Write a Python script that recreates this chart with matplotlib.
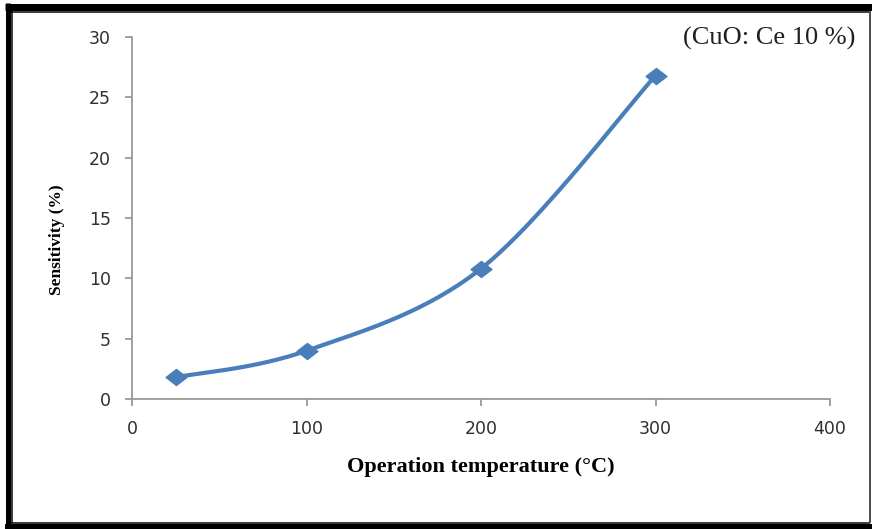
import numpy as np
import matplotlib
matplotlib.use("Agg")
import matplotlib.pyplot as plt
from matplotlib.lines import Line2D
from matplotlib.path import Path

temperature = [25, 100, 200, 300]
sensitivity = [1.8, 4.0, 10.8, 26.8]
x_ticks = [0, 100, 200, 300, 400]
y_ticks = [0, 5, 10, 15, 20, 25, 30]


def catmull_rom(xs, ys, n=50):
    xs = np.asarray(xs, float)
    ys = np.asarray(ys, float)
    px = np.concatenate([[xs[0]], xs, [xs[-1]]])
    py = np.concatenate([[ys[0]], ys, [ys[-1]]])
    ox, oy = [], []
    for i in range(1, len(px) - 2):
        p0 = np.array([px[i - 1], py[i - 1]])
        p1 = np.array([px[i], py[i]])
        p2 = np.array([px[i + 1], py[i + 1]])
        p3 = np.array([px[i + 2], py[i + 2]])
        m1 = 0.5 * (p2 - p0)
        m2 = 0.5 * (p3 - p1)
        t = np.linspace(0, 1, n)[:, None]
        h00 = 2 * t**3 - 3 * t**2 + 1
        h10 = t**3 - 2 * t**2 + t
        h01 = -2 * t**3 + 3 * t**2
        h11 = t**3 - t**2
        seg = h00 * p1 + h10 * m1 + h01 * p2 + h11 * m2
        ox.extend(seg[:, 0])
        oy.extend(seg[:, 1])
    return np.array(ox), np.array(oy)


W, H = 872, 529
fig = plt.figure(figsize=(W / 100, H / 100), dpi=100)
ax = fig.add_axes([132 / W, 1 - 399 / H, (830 - 132) / W, (399 - 37) / H])

blue = "#4A7EBB"
sx, sy = catmull_rom(temperature, sensitivity)
ax.plot(sx, sy, color=blue, lw=3.0, solid_capstyle="round")
diamond = Path([(-1.3, 0), (0, 1), (1.3, 0), (0, -1), (-1.3, 0)],
               [Path.MOVETO, Path.LINETO, Path.LINETO, Path.LINETO, Path.CLOSEPOLY])
ax.plot(temperature, sensitivity, linestyle="none", marker=diamond, ms=15,
        color=blue)

ax.set_xlim(0, 400)
ax.set_ylim(0, 30)
ax.set_xticks(x_ticks)
ax.set_yticks(y_ticks)
for s in ["top", "right"]:
    ax.spines[s].set_visible(False)
for s in ["left", "bottom"]:
    ax.spines[s].set_color("#9a9a9a")
    ax.spines[s].set_linewidth(1.3)
ax.tick_params(direction="out", length=5, width=1.3, color="#9a9a9a",
               labelsize=12.5, labelcolor="#303030")
ax.tick_params(axis="y", pad=10)
ax.tick_params(axis="x", pad=10)

ax.set_xlabel("Operation temperature (°C)", family="Liberation Serif",
              fontweight="bold", fontsize=16, va="center", ha="center")
ax.xaxis.set_label_coords(0.5, (399 - 467) / 362)
ax.set_ylabel("Sensitivity (%)", family="Liberation Serif",
              fontweight="bold", fontsize=12.5, va="center", ha="center")
ax.yaxis.set_label_coords((57 - 132) / 698, (399 - 240) / 362)

fig.text(855 / W, 1 - 38 / H, "(CuO: Ce 10 %)", family="Liberation Serif",
         fontsize=19, ha="right", va="center", color="#202020")

# frame border (thick outer band + thin inner line)
def hline(y, x0, x1, lw, color="black"):
    fig.add_artist(Line2D([x0 / W, x1 / W], [1 - y / H, 1 - y / H],
                          transform=fig.transFigure, lw=lw, color=color,
                          solid_capstyle="butt"))


def vline(x, y0, y1, lw, color="black"):
    fig.add_artist(Line2D([x / W, x / W], [1 - y0 / H, 1 - y1 / H],
                          transform=fig.transFigure, lw=lw, color=color,
                          solid_capstyle="butt"))


px = 0.72
hline(6.5, 5, W, 7 * px)
hline(526.5, 5, W, 6 * px)
vline(7.5, 3, H, 5 * px)
hline(12, 11, 870, 1.5 * px)
hline(523, 11, 870, 1.5 * px)
vline(12, 11, 523, 1.5 * px)
vline(870, 11, 523, 2 * px, color="#505050")

fig.savefig("out.png", dpi=100)
